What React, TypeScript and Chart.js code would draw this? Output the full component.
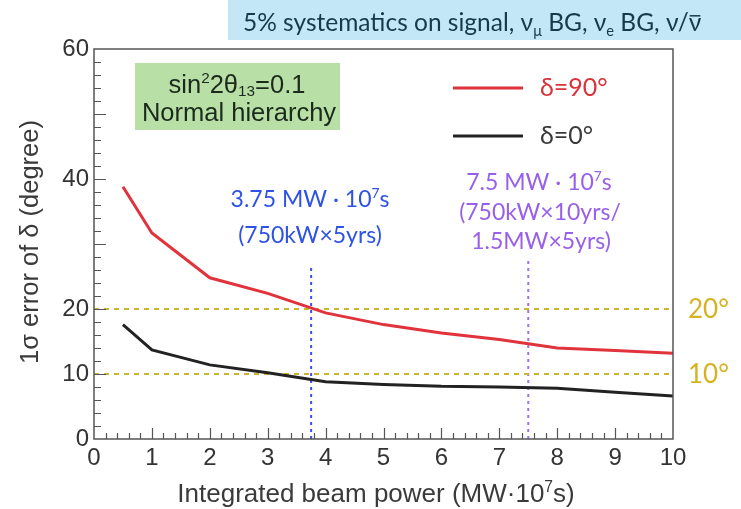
import React, { useEffect, useRef } from "react";
import { Chart, registerables } from "chart.js";

Chart.register(...registerables);

// ---- data ----
const xValues = [0.5, 1, 2, 3, 4, 5, 6, 7, 8, 9, 10];
const errDelta90 = [38.8, 31.7, 24.8, 22.4, 19.4, 17.6, 16.3, 15.3, 14.0, 13.6, 13.2];
const errDelta0 = [17.6, 13.7, 11.4, 10.2, 8.8, 8.4, 8.1, 8.0, 7.8, 7.2, 6.6];
const yTickLabels = [0, 10, 20, 40, 60];
const refLevels = [20, 10];
const exposureMarks = [3.75, 7.5];
const exposureMarkTops = [26.3, 27.9];

const SANS = "'Liberation Sans', Arial, Helvetica, sans-serif";
const HUM = "Lato, 'Open Sans', sans-serif";

type Seg = { t: string; scale?: number; dy?: number; over?: boolean };

function drawRich(
  ctx: CanvasRenderingContext2D,
  segs: Seg[],
  x: number,
  y: number,
  size: number,
  family: string,
  color: string,
  align: "left" | "center" = "center"
) {
  ctx.save();
  ctx.fillStyle = color;
  ctx.strokeStyle = color;
  ctx.textBaseline = "alphabetic";
  ctx.textAlign = "left";
  const font = (s: Seg) => `${(size * (s.scale ?? 1)).toFixed(1)}px ${family}`;
  const widths = segs.map((s) => {
    ctx.font = font(s);
    return ctx.measureText(s.t).width;
  });
  const total = widths.reduce((a, b) => a + b, 0);
  let cx = align === "center" ? x - total / 2 : x;
  segs.forEach((s, i) => {
    ctx.font = font(s);
    const yy = y + (s.dy ?? 0) * size;
    ctx.fillText(s.t, cx, yy);
    if (s.over) {
      ctx.lineWidth = 1.5;
      ctx.beginPath();
      ctx.moveTo(cx + 1, yy - size * 0.62);
      ctx.lineTo(cx + widths[i] - 1, yy - size * 0.62);
      ctx.stroke();
    }
    cx += widths[i];
  });
  ctx.restore();
}

const decorPlugin = {
  id: "decor",
  beforeDatasetsDraw(chart: any) {
    const ctx: CanvasRenderingContext2D = chart.ctx;
    ctx.save();
    // banner
    ctx.fillStyle = "#c3e7f7";
    ctx.fillRect(228, 0, 513, 40);
    // green info box
    ctx.fillStyle = "#b8e0a6";
    ctx.fillRect(135, 63, 205, 67);
    ctx.restore();
  },
  afterDatasetsDraw(chart: any) {
    const ctx: CanvasRenderingContext2D = chart.ctx;
    const { left, right, top, bottom } = chart.chartArea;
    const xs = chart.scales.x;
    const ys = chart.scales.y;
    ctx.save();
    // frame
    ctx.strokeStyle = "#555";
    ctx.lineWidth = 1.5;
    ctx.strokeRect(left, top, right - left, bottom - top);
    // inward ticks
    ctx.lineWidth = 1.2;
    ctx.beginPath();
    for (let v = 2; v < 60; v += 2) {
      const py = Math.round(ys.getPixelForValue(v)) + 0.5;
      const len = v % 10 === 0 ? 12 : 7;
      ctx.moveTo(left, py);
      ctx.lineTo(left + len, py);
    }
    for (let i = 1; i < 50; i++) {
      const px = Math.round(xs.getPixelForValue(i * 0.2)) + 0.5;
      const len = i % 5 === 0 ? 11 : 6;
      ctx.moveTo(px, bottom);
      ctx.lineTo(px, bottom - len);
    }
    ctx.stroke();

    // legend
    ctx.lineWidth = 3;
    ctx.strokeStyle = "#e0333b";
    ctx.beginPath();
    ctx.moveTo(453, 88);
    ctx.lineTo(523, 88);
    ctx.stroke();
    ctx.strokeStyle = "#222";
    ctx.beginPath();
    ctx.moveTo(453, 136);
    ctx.lineTo(523, 136);
    ctx.stroke();
    ctx.restore();

    drawRich(ctx, [{ t: "δ=90°" }], 540, 96, 25, HUM, "#d8343a", "left");
    drawRich(ctx, [{ t: "δ=0°" }], 540, 144, 25, HUM, "#3a3a3a", "left");

    // banner text
    drawRich(
      ctx,
      [
        { t: "5% systematics on signal, ν" },
        { t: "μ", scale: 0.6, dy: 0.22 },
        { t: " BG, ν" },
        { t: "e", scale: 0.6, dy: 0.22 },
        { t: " BG, ν/" },
        { t: "ν", over: true },
      ],
      243,
      31,
      24.5,
      HUM,
      "#17394a",
      "left"
    );

    // green box text
    drawRich(
      ctx,
      [
        { t: "sin" },
        { t: "2", scale: 0.6, dy: -0.38 },
        { t: "2θ" },
        { t: "13", scale: 0.6, dy: 0.12 },
        { t: "=0.1" },
      ],
      237,
      93,
      25.5,
      SANS,
      "#1c2a1c"
    );
    drawRich(ctx, [{ t: "Normal hierarchy" }], 239, 121, 25.5, SANS, "#1c2a1c");

    // exposure annotations
    const blue = "#2f52e6";
    drawRich(
      ctx,
      [{ t: "3.75 MW · 10" }, { t: "7", scale: 0.6, dy: -0.38 }, { t: "s" }],
      310,
      207,
      23,
      HUM,
      blue
    );
    drawRich(ctx, [{ t: "(750kW×5yrs)" }], 310, 243, 23, HUM, blue);
    const purple = "#9860ea";
    drawRich(
      ctx,
      [{ t: "7.5 MW · 10" }, { t: "7", scale: 0.6, dy: -0.38 }, { t: "s" }],
      539,
      190,
      23,
      HUM,
      purple
    );
    drawRich(ctx, [{ t: "(750kW×10yrs/" }], 540, 220, 23, HUM, purple);
    drawRich(ctx, [{ t: "1.5MW×5yrs)" }], 541, 249, 23, HUM, purple);

    // right-side reference labels
    refLevels.forEach((lv) => {
      const py = ys.getPixelForValue(lv);
      drawRich(ctx, [{ t: `${lv}°` }], 688, py + 9, 26, HUM, "#d6b21e", "left");
    });

    // axis titles
    drawRich(
      ctx,
      [
        { t: "Integrated beam power (MW·10" },
        { t: "7", scale: 0.6, dy: -0.38 },
        { t: "s)" },
      ],
      376,
      502,
      26,
      SANS,
      "#3a3a3a"
    );
    ctx.save();
    ctx.translate(38, 242);
    ctx.rotate(-Math.PI / 2);
    drawRich(ctx, [{ t: "1σ error of δ (degree)" }], 0, 0, 25.5, SANS, "#3a3a3a");
    ctx.restore();
  },
};

export default function App() {
  const canvasRef = useRef<HTMLCanvasElement | null>(null);

  useEffect(() => {
    if (!canvasRef.current) return;
    const pts = (ys: number[]) => xValues.map((x, i) => ({ x, y: ys[i] }));
    const chart = new Chart(canvasRef.current, {
      type: "line",
      data: {
        datasets: [
          {
            label: "δ=90°",
            data: pts(errDelta90),
            borderColor: "#e0333b",
            borderWidth: 3,
            pointRadius: 0,
            tension: 0,
          },
          {
            label: "δ=0°",
            data: pts(errDelta0),
            borderColor: "#222222",
            borderWidth: 3,
            pointRadius: 0,
            tension: 0,
          },
          ...refLevels.map((lv) => ({
            label: `ref ${lv}`,
            data: [
              { x: 0, y: lv },
              { x: 10, y: lv },
            ],
            borderColor: "#cbb52c",
            borderWidth: 2,
            borderDash: [5, 5],
            pointRadius: 0,
          })),
          ...exposureMarks.map((xm, i) => ({
            label: `mark ${xm}`,
            data: [
              { x: xm, y: 0 },
              { x: xm, y: exposureMarkTops[i] },
            ],
            borderColor: i === 0 ? "#3a4ef0" : "#a070f0",
            borderWidth: 2,
            borderDash: [3, 4],
            pointRadius: 0,
          })),
        ],
      },
      options: {
        animation: false,
        responsive: false,
        maintainAspectRatio: false,
        layout: { padding: { left: 0, top: 49, right: 68, bottom: 0 } },
        plugins: {
          legend: { display: false },
          tooltip: { enabled: false },
        },
        scales: {
          x: {
            type: "linear",
            min: 0,
            max: 10,
            grid: { display: false, drawTicks: false },
            border: { display: false },
            ticks: {
              stepSize: 1,
              autoSkip: false,
              maxRotation: 0,
              padding: 5,
              color: "#333",
              font: { family: SANS, size: 24 },
            },
            afterFit: (s: any) => {
              s.height = 70;
            },
          },
          y: {
            type: "linear",
            min: 0,
            max: 60,
            grid: { display: false, drawTicks: false },
            border: { display: false },
            ticks: {
              stepSize: 10,
              autoSkip: false,
              padding: 5,
              color: "#333",
              font: { family: SANS, size: 24 },
              callback: (v: any) => (yTickLabels.includes(Number(v)) ? String(v) : ""),
            },
            afterFit: (s: any) => {
              s.width = 94;
            },
          },
        },
      },
      plugins: [decorPlugin],
    } as any);
    return () => chart.destroy();
  }, []);

  return (
    <div style={{ position: "fixed", left: 0, top: 0, width: 741, height: 509, background: "#fff" }}>
      <canvas ref={canvasRef} width={741} height={509} style={{ display: "block" }} />
    </div>
  );
}
